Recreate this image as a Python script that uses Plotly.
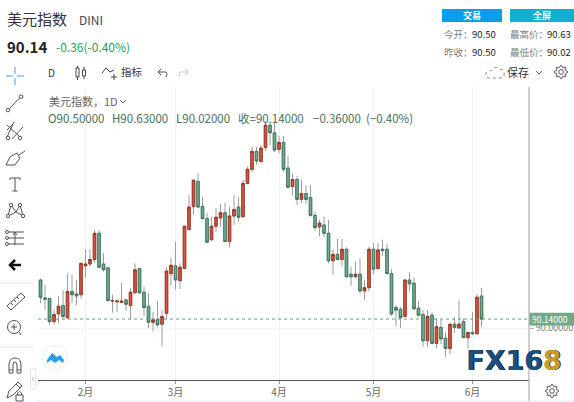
import math
import plotly.graph_objects as go

# daily candles (red = up, green = down)
opens = [90.75, 90.47, 90.46, 90.10, 90.22, 90.35, 90.16, 90.57, 90.53, 90.52,
         90.97, 91.00, 91.07, 91.48, 91.00, 90.94, 90.42, 90.41, 90.40, 90.44,
         90.35, 90.55, 90.93, 90.56, 90.34, 90.09, 90.13, 90.06, 90.23, 90.85,
         90.97, 90.74, 90.93, 91.54, 91.90, 92.29, 91.90, 91.71, 91.38, 91.59,
         91.72, 91.80, 91.35, 91.75, 91.89, 91.74, 92.26, 92.48, 92.76, 92.60,
         92.82, 93.17, 93.05, 92.79, 92.90, 92.50, 92.21, 92.32, 92.01, 92.10,
         92.04, 91.76, 91.58, 91.61, 91.48, 91.05, 91.15, 91.07, 91.23, 90.84,
         90.80, 90.84, 90.58, 90.63, 91.23, 90.93, 91.23, 91.23, 90.85, 90.32,
         90.29, 90.18, 90.75, 90.70, 90.31, 90.21, 89.80, 90.20, 89.76, 90.01,
         89.84, 89.68, 90.06, 90.00, 90.10, 89.85, 89.93, 89.91, 90.50]
highs = [90.77, 90.67, 90.47, 90.29, 90.50, 90.59, 90.85, 90.83, 90.75, 91.02,
         91.23, 91.23, 91.53, 91.53, 91.17, 90.95, 90.52, 90.45, 90.71, 90.45,
         90.62, 91.01, 90.94, 90.64, 90.55, 90.25, 90.42, 90.28, 90.95, 91.10,
         91.35, 91.01, 91.59, 92.08, 92.32, 92.42, 92.05, 91.80, 91.74, 91.87,
         91.94, 91.96, 91.90, 92.08, 92.05, 92.32, 92.52, 92.83, 92.83, 92.86,
         93.21, 93.21, 93.20, 93.00, 93.00, 92.69, 92.41, 92.38, 92.32, 92.23,
         92.23, 91.82, 91.69, 91.74, 91.69, 91.23, 91.39, 91.39, 91.26, 90.96,
         91.04, 91.09, 90.75, 91.27, 91.33, 91.33, 91.38, 91.32, 90.92, 90.36,
         90.33, 90.76, 90.87, 90.79, 90.42, 90.28, 90.28, 90.24, 90.15, 90.13,
         89.94, 90.06, 90.17, 90.43, 90.15, 89.94, 90.25, 90.53, 90.63]
lows = [90.39, 90.28, 90.05, 90.06, 90.08, 90.14, 90.15, 90.39, 90.36, 90.46,
        90.79, 90.96, 91.02, 90.94, 90.88, 90.41, 90.24, 90.25, 90.40, 90.27,
        90.14, 90.54, 90.53, 90.19, 90.00, 89.95, 90.01, 89.71, 90.14, 90.66,
        90.60, 90.61, 90.92, 91.53, 91.77, 91.87, 91.69, 91.33, 91.35, 91.50,
        91.58, 91.34, 91.26, 91.61, 91.66, 91.71, 92.25, 92.44, 92.55, 92.59,
        92.77, 92.86, 92.75, 92.73, 92.44, 92.18, 92.07, 91.92, 91.95, 91.94,
        91.74, 91.52, 91.43, 91.42, 91.01, 90.83, 91.06, 90.96, 90.79, 90.66,
        90.79, 90.54, 90.44, 90.57, 90.84, 90.91, 91.13, 90.84, 90.19, 90.03,
        90.00, 90.17, 90.57, 90.29, 90.18, 89.71, 89.71, 89.76, 89.68, 89.75,
        89.55, 89.59, 89.92, 90.00, 89.84, 89.68, 89.89, 89.90, 90.02]
closes = [90.48, 90.45, 90.10, 90.21, 90.34, 90.18, 90.57, 90.52, 90.50, 91.01,
          91.00, 91.07, 91.48, 90.95, 90.91, 90.43, 90.43, 90.42, 90.42, 90.37,
          90.56, 90.91, 90.55, 90.32, 90.09, 90.13, 90.05, 90.18, 90.89, 90.98,
          90.75, 90.95, 91.59, 91.89, 92.31, 91.89, 91.71, 91.34, 91.59, 91.73,
          91.80, 91.35, 91.75, 91.85, 91.73, 92.26, 92.48, 92.76, 92.61, 92.81,
          93.17, 93.05, 92.78, 92.90, 92.48, 92.20, 92.32, 92.01, 92.10, 92.01,
          91.76, 91.57, 91.64, 91.48, 91.05, 91.15, 91.07, 91.23, 90.80, 90.80,
          90.84, 90.58, 90.63, 91.23, 90.92, 91.22, 91.21, 90.85, 90.22, 90.28,
          90.16, 90.75, 90.69, 90.30, 90.20, 89.80, 90.18, 89.76, 90.02, 89.83,
          89.68, 90.06, 90.01, 90.06, 89.85, 89.93, 89.91, 90.48, 90.14]
bars = list(range(len(closes)))

month_bars = [10, 30, 53, 74, 96]
month_labels = ['2月', '3月', '4月', '5月', '6月']
price_ticks = [90]
price_tick_labels = ['90.00000']

CJK = 'Noto Sans CJK SC'
GREY = '#50535e'

body_top = [max(a, b) for a, b in zip(opens, closes)]
body_low = [min(a, b) for a, b in zip(opens, closes)]

fig = go.Figure()
# wicks first, in grey
fig.add_trace(go.Candlestick(x=bars, open=opens, high=highs, low=lows, close=closes,
                             increasing=dict(line=dict(color='#9a9da0', width=1), fillcolor='#9a9da0'),
                             decreasing=dict(line=dict(color='#9a9da0', width=1), fillcolor='#9a9da0'),
                             showlegend=False, hoverinfo='skip'))
# bodies on top with their darker border
fig.add_trace(go.Candlestick(x=bars, open=opens, high=body_top, low=body_low, close=closes,
                             increasing=dict(line=dict(color='#97301f', width=0.9), fillcolor='#dc5540'),
                             decreasing=dict(line=dict(color='#35745a', width=0.9), fillcolor='#74ae90'),
                             showlegend=False))

shapes = []
notes = []


def stroke(path, color=GREY, width=1.0, dash='solid'):
    shapes.append(dict(type='path', path=path, xref='x2', yref='y2',
                       line=dict(color=color, width=width, dash=dash)))


def ring(cx, cy, r, color=GREY, width=1.0, fill='#ffffff'):
    shapes.append(dict(type='circle', xref='x2', yref='y2', x0=cx - r, x1=cx + r, y0=cy - r, y1=cy + r,
                       line=dict(color=color, width=width), fillcolor=fill))


def box(x0, y0, x1, y1, fill, line=None):
    shapes.append(dict(type='rect', xref='x2', yref='y2', x0=x0, x1=x1, y0=y0, y1=y1,
                       fillcolor=fill, line=dict(color=line or fill, width=1 if line else 0)))


def text(x, y, s, size=10, color='#333333', anchor='left', family=CJK):
    notes.append(dict(x=x, y=y, xref='x2', yref='y2', text=s, showarrow=False, xanchor=anchor,
                      yanchor='middle', borderpad=0, font=dict(family=family, size=size, color=color)))


def gear(cx, cy, r):
    pts = []
    for k in range(32):
        rad = r if k % 4 in (0, 1) else r * 0.74
        a = (k - 0.5) * math.pi / 16
        pts.append('%.1f %.1f' % (cx + rad * math.cos(a), cy + rad * math.sin(a)))
    stroke('M' + ' L'.join(pts) + ' Z')
    ring(cx, cy, r * 0.36)


# header
text(6, 18, '美元指数', 15, '#333333')
text(78, 19, 'DINI', 12, '#4a4a4a')
text(6, 46, '<b>90.14</b>', 15, '#222222')
text(55, 46, '-0.36(-0.40%)', 12, '#18a45f')
box(442, 9, 502, 22, '#0a9fee')
box(510, 9, 574, 22, '#0fb2cd')
text(472, 15.5, '<b>交易</b>', 9, '#ffffff', 'center')
text(542, 15.5, '<b>全屏</b>', 9, '#ffffff', 'center')
text(443, 34, '今开：', 9.5, '#7d7d7d')
text(471, 34, '90.50', 9.5, '#222222')
text(443, 52, '昨收：', 9.5, '#7d7d7d')
text(471, 52, '90.50', 9.5, '#222222')
text(509, 34, '最高价：', 9.5, '#7d7d7d')
text(546, 34, '90.63', 9.5, '#222222')
text(509, 52, '最低价：', 9.5, '#7d7d7d')
text(546, 52, '90.02', 9.5, '#222222')

# top toolbar
text(47, 72, 'D', 10, '#333333')
stroke('M77.5 66 L77.5 80 M84 67 L84 79', '#444444')
box(76, 68, 79, 77, '#ffffff', '#444444')
box(82.5, 70, 85.5, 76, '#ffffff', '#444444')
stroke('M102 73 L106 68 L110 72 L114 70 M114 74 L114 80 M111 77 L117 77', '#444444')
text(120, 71, '指标', 10.5, '#333333')
stroke('M158 72 L166 72 Q168 74 166 77 M158 72 L161 69 M158 72 L161 75', '#555555')
stroke('M188 72 L180 72 Q178 74 180 77 M188 72 L185 69 M188 72 L185 75', '#c8cbd0')
stroke('M490 78 Q485 78 486 73 Q488 70 491 71 Q495 65 500 69 Q505 70 504 74 Q505 78 500 78 Z', '#888888', 1, 'dot')
text(506, 72, '保存', 11, '#333333')
stroke('M536 71 L539 74 L542 71', '#666666')
gear(561, 72, 6.5)

# left toolbar
stroke('M6 76 L13 76 M17 76 L24 76 M15 67 L15 74 M15 78 L15 85', '#7cc4f8', 1.5)
stroke('M9.5 108.5 L19.5 98')
ring(8, 110, 1.8)
ring(21, 96.7, 1.8)
stroke('M7 125 L21 138 M7 137 L14 122 M12 139 L23 127 M7 130 L13 124')
ring(8, 138, 1.8)
ring(20, 138, 1.8)
stroke('M6 165 L10 157 L17 153 L20 158 L15 165 Z M19 155 L25 151')
stroke('M10 178 L20 178 M10 178 L10 180 M20 178 L20 180 M15 178 L15 191 M12.5 191 L17.5 191')
stroke('M8 216 L11 205 L16 212 L20 205 L23 216 M8 216 L16 212 L23 216')
for cx, cy in [(8, 216), (11, 205), (20, 205), (23, 216)]:
    ring(cx, cy, 1.7)
stroke('M7 232 L24 232 M7 238 L24 238 M7 244 L24 244 M15 232 L15 245 M13 235 L15 232 L17 235', GREY)
for cy in (232, 238, 244):
    ring(7, cy, 1.5)
stroke('M10 265 L21 265', '#111111', 2.5)
stroke('M15 260 L10 265 L15 270', '#111111', 2.5)
stroke('M7 306 L21 293 L25 297 L11 310 Z M11 303 L13 305 M14 300 L16 302 M17 297 L19 299')
ring(14, 327, 6.5, fill='rgba(0,0,0,0)')
stroke('M11 327 L17 327 M14 324 L14 330 M19 332 L21 335')
stroke('M9 373 L9 365 Q9 358 15 358 Q21 358 21 365 L21 373 L17 373 L17 365 Q17 362 15 362 Q13 362 13 365 L13 373 Z M9 370 L13 370 M17 370 L21 370')
stroke('M7 398 L9 391 L18 382 L22 386 L13 395 Z M16 384 L20 388')
box(16, 395, 23, 401, '#ffffff', GREY)
stroke('M17.5 395 L17.5 393 Q19.5 390 21.5 393 L21.5 395')
stroke('M0 283 L34 283', '#e3e5ea')
stroke('M0 347 L34 347', '#e3e5ea')

# cloud badge and collapse handle
ring(55, 358, 12.5, '#eceff2')
shapes.append(dict(type='path', xref='x2', yref='y2', line=dict(width=0), fillcolor='#2a9df0',
                   path='M47 363 L47 360 L52 353 L57 357 L60 355 L64 360 L63 363 L59 360 L55 363 L51 360 Z'))
shapes.append(dict(type='rect', xref='x2', yref='y2', x0=30.5, x1=35.5, y0=369, y1=389,
                   fillcolor='#ffffff', line=dict(color='#e3e5ea', width=1)))
stroke('M33.5 377 L32 379 L33.5 381', '#9cc8ea')

# chart frame
stroke('M529 87 L529 402', '#b2b5be', 1.3)
stroke('M37 401 L574 401', '#e6e8ee')
gear(552, 391, 6.5)

# chart legend
text(48, 101, '美元指数，1D', 11, '#666666')
stroke('M120 100 L123 103 L126 100', '#666666')
for x, s in [(47, 'O90.50000'), (111, 'H90.63000'), (175, 'L90.02000'), (237, '收=90.14000'),
             (312, '−0.36000'), (365, '(−0.40%)')]:
    text(x, 118, s, 11.5, '#47705c')

# last price line and its tag
shapes.append(dict(type='line', xref='x', yref='y', x0=-0.56, x1=108.56, y0=closes[-1], y1=closes[-1],
                   line=dict(color='#5f9c7c', width=1, dash='dot')))
shapes.append(dict(type='rect', xref='x2', yref='y', x0=529.5, x1=574, y0=closes[-1] - 0.1, y1=closes[-1] + 0.1,
                   fillcolor='#6fa98a', line=dict(width=0)))
notes.append(dict(x=569, y=closes[-1], xref='x2', yref='y', text='%.5f' % closes[-1], showarrow=False, xanchor='right',
                  yanchor='middle', borderpad=0, font=dict(family=CJK, size=8.5, color='#ffffff')))

# watermark
notes.append(dict(x=514, y=360, xref='x2', yref='y2', showarrow=False, xanchor='center', yanchor='middle',
                  text='<b>FX16<span style="color:#c89b2c">8</span></b>', borderpad=0,
                  font=dict(family='DejaVu Sans', size=27, color='#1b4f7f', shadow='0.7px 0 0 currentcolor')))

fig.update_layout(
    width=574, height=402, margin=dict(l=0, r=0, t=0, b=0), autosize=False,
    paper_bgcolor='#ffffff', plot_bgcolor='rgba(0,0,0,0)', boxmode='overlay', boxgap=0.2,
    hovermode=False, shapes=shapes, annotations=notes,
    xaxis=dict(domain=[38 / 574, 529 / 574], range=[-0.56, 108.56], rangeslider=dict(visible=False),
               tickmode='array', tickvals=month_bars, ticktext=month_labels, ticks='outside', ticklen=3,
               tickcolor='#9598a1', showgrid=True, gridcolor='#edf4f8', gridwidth=1, zeroline=False,
               showline=True, linecolor=GREY, linewidth=1.3,
               tickfont=dict(family=CJK, size=10, color='#666666')),
    yaxis=dict(domain=[1 - 380 / 402, 1 - 87 / 402], range=[89.1875, 93.7656], side='right',
               tickmode='array', tickvals=price_ticks, ticktext=price_tick_labels, ticks='outside', ticklen=4,
               tickcolor='#b2b5be', showgrid=True, gridcolor='#f0f3f7', gridwidth=1, zeroline=False,
               showline=False, tickfont=dict(family=CJK, size=9, color='#777777')),
    xaxis2=dict(domain=[0, 1], range=[0, 574], visible=False, anchor='y2', fixedrange=True),
    yaxis2=dict(domain=[0, 1], range=[402, 0], visible=False, anchor='x2', fixedrange=True),
)

# the page's default body margin would push the chart off the window
fig.write_html("out.html", config=dict(displayModeBar=False),
               post_script="document.body.style.margin='0';document.documentElement.style.overflow='hidden';")
